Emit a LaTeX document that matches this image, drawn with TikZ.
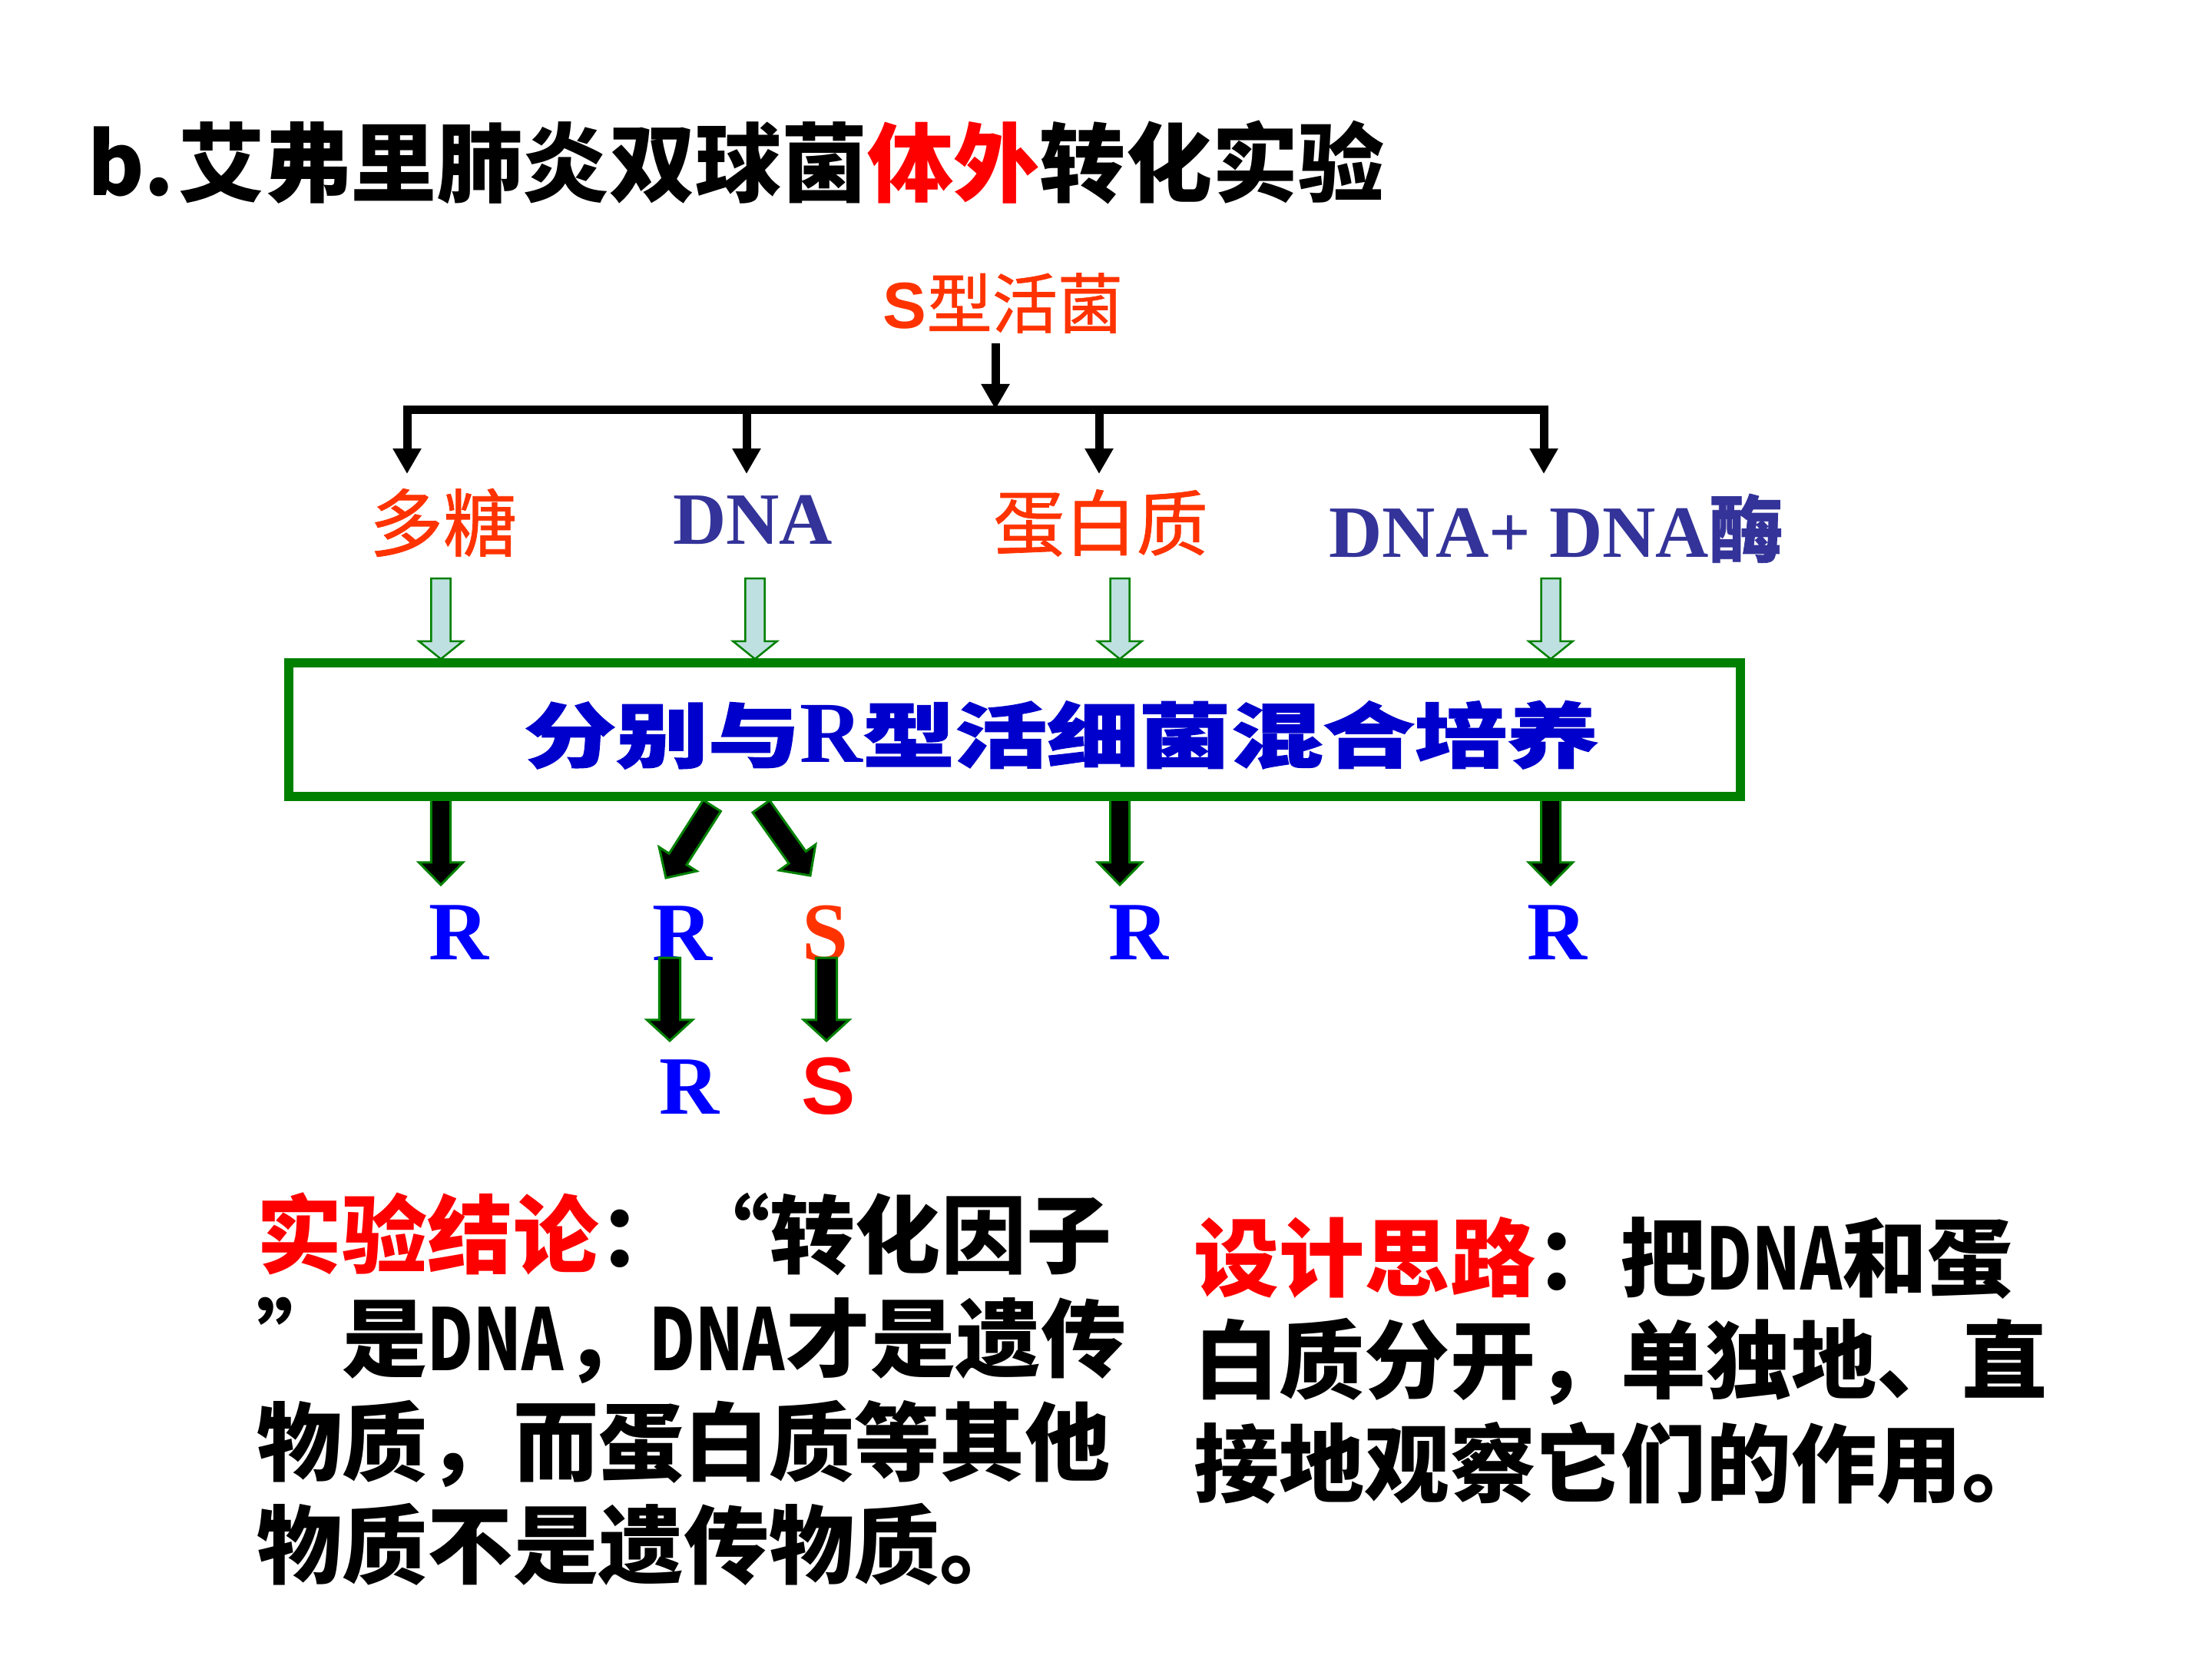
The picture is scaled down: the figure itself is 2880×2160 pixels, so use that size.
\documentclass[tikz,border=0pt]{standalone}
\usepackage{fontspec}
\usepackage{graphicx}
\setmainfont{Liberation Serif}
\newfontfamily\cjk{Noto Sans CJK SC}
\newfontfamily\cjkmid{Noto Sans CJK SC}[FakeBold=0.8]
\newfontfamily\cjkheavy{Noto Sans CJK SC}[BoldFeatures={FakeBold=1.5}]
\newfontfamily\sansb{Liberation Sans}
\usetikzlibrary{arrows.meta,calc}

\definecolor{lblred}{RGB}{255,51,0}
\definecolor{dnablue}{RGB}{51,51,153}
\definecolor{boxblue}{RGB}{0,0,204}
\definecolor{rblue}{RGB}{0,0,255}
\definecolor{pured}{RGB}{255,0,0}
\definecolor{boxgreen}{RGB}{0,128,0}
\definecolor{cyanfill}{RGB}{191,224,224}

\newcommand{\dna}{\scalebox{0.74}[1]{DNA}}
% #1 style, #2 from, #3 to, #4 shaft half width, #5 head half width, #6 head length
\newcommand{\blockarrow}[6]{%
  \coordinate (bah) at ($(#3)!#6!(#2)$);
  \path[#1] ($(#2)!#4!90:(#3)$) -- ($(bah)!#4!90:(#3)$) -- ($(bah)!#5!90:(#3)$) -- (#3)
    -- ($(bah)!#5!-90:(#3)$) -- ($(bah)!#4!-90:(#3)$) -- ($(#2)!#4!-90:(#3)$) -- cycle;}

\tikzset{
  treeline/.style={line width=0.11cm, line cap=rect},
  treearrow/.style={line width=0.11cm, -{Triangle[length=0.33cm,width=0.35cm]}},
  cyanarrow/.style={fill=cyanfill, draw=boxgreen, line width=0.025cm, line join=miter},
  blkarrow/.style={fill=black, draw=boxgreen, line width=0.03cm, line join=miter},
  lbl/.style={anchor=base, inner sep=0},
  body/.style={anchor=base west, inner sep=0, font=\cjk\bfseries\fontsize{31.6pt}{36pt}\selectfont},
  rlab/.style={lbl, font=\rmfamily\bfseries\fontsize{30.7pt}{34pt}\selectfont, text=rblue},
}

\begin{document}
\begin{tikzpicture}[x=0.01cm,y=-0.01cm]
\useasboundingbox[fill=white] (0,0) rectangle (2880,2160);

% title
\node[anchor=base west, inner sep=0, font=\cjk\bfseries\fontsize{31.9pt}{38pt}\selectfont] (title) at (114,254)
  {b.\hspace{0.05em}艾弗里肺炎双球菌{\color{pured}体外}转化实验};

% source
\node[lbl, text=lblred, font=\cjkmid\fontsize{24.2pt}{28pt}\selectfont] (S) at (1306,427)
  {{\sansb\bfseries S}型活菌};

\coordinate (s0) at (1296,447);
\coordinate (j0) at (1296,533);
\coordinate (b1) at (530,533);
\coordinate (b2) at (972,533);
\coordinate (b3) at (1431,533);
\coordinate (b4) at (2010,533);
\coordinate (e1) at (530,617);
\coordinate (e2) at (972,617);
\coordinate (e3) at (1431,617);
\coordinate (e4) at (2010,617);

\draw[treeline] (b1) -- (b4);
\draw[treearrow] (s0) -- (j0);
\draw[treearrow] (b1) -- (e1);
\draw[treearrow] (b2) -- (e2);
\draw[treearrow] (b3) -- (e3);
\draw[treearrow] (b4) -- (e4);

% component labels
\node[lbl, text=lblred, font=\cjkmid\fontsize{27.3pt}{30pt}\selectfont] (poly) at (577,717) {多糖};
\node[lbl, text=dnablue, font=\rmfamily\bfseries\fontsize{27.3pt}{30pt}\selectfont] (dnal) at (980,708) {DNA};
\node[lbl, text=lblred, font=\cjkmid\fontsize{26.5pt}{30pt}\selectfont] (prot) at (1433,716) {蛋白质};
\node[lbl, text=dnablue, font=\rmfamily\bfseries\fontsize{27.3pt}{30pt}\selectfont] (dnase) at (2026,725)
  {DNA+ DNA{\cjkmid 酶}};

% cyan arrows into the box
\coordinate (ca1) at (574,753);  \coordinate (cb1) at (574,858);
\coordinate (ca2) at (983,753);  \coordinate (cb2) at (983,858);
\coordinate (ca3) at (1458,753); \coordinate (cb3) at (1458,858);
\coordinate (ca4) at (2019,753); \coordinate (cb4) at (2019,858);
\blockarrow{cyanarrow}{ca1}{cb1}{0.125cm}{0.285cm}{0.23cm}
\blockarrow{cyanarrow}{ca2}{cb2}{0.125cm}{0.285cm}{0.23cm}
\blockarrow{cyanarrow}{ca3}{cb3}{0.125cm}{0.285cm}{0.23cm}
\blockarrow{cyanarrow}{ca4}{cb4}{0.125cm}{0.285cm}{0.23cm}

% black arrows out of the box
\coordinate (ka1) at (574,1040);  \coordinate (kb1) at (574,1152);
\coordinate (ka3) at (1458,1040); \coordinate (kb3) at (1458,1152);
\coordinate (ka4) at (2019,1040); \coordinate (kb4) at (2019,1152);
\coordinate (kl0) at (927,1049);  \coordinate (kl1) at (867,1143);
\coordinate (kr0) at (991,1050);  \coordinate (kr1) at (1055,1140);
\blockarrow{blkarrow}{ka1}{kb1}{0.125cm}{0.285cm}{0.29cm}
\blockarrow{blkarrow}{ka3}{kb3}{0.125cm}{0.285cm}{0.29cm}
\blockarrow{blkarrow}{ka4}{kb4}{0.125cm}{0.285cm}{0.29cm}
\blockarrow{blkarrow}{kl0}{kl1}{0.135cm}{0.29cm}{0.29cm}
\blockarrow{blkarrow}{kr0}{kr1}{0.135cm}{0.29cm}{0.29cm}

% mixing box
\node[draw=boxgreen, line width=0.12cm, minimum width=18.88cm, minimum height=1.74cm, inner sep=0] (box) at (1321,950) {};
\node[lbl, text=boxblue] (mix) at (1382,992)
  {\cjkheavy\bfseries\fontsize{26.2pt}{30pt}\selectfont\scalebox{1.3}[1]{分别与}{\rmfamily\bfseries\fontsize{32.2pt}{36pt}\selectfont R}\scalebox{1.3}[1]{型活细菌混合培养}};

% results
\node[rlab] (r1) at (597,1249) {R};
\node[rlab] (r2) at (888,1250) {R};
\node[rlab, text=lblred] (s1) at (1075,1250) {S};
\node[rlab] (r3) at (1482,1249) {R};
\node[rlab] (r4) at (2027,1249) {R};

\coordinate (ma1) at (872,1247);  \coordinate (mb1) at (872,1355);
\coordinate (ma2) at (1076,1247); \coordinate (mb2) at (1076,1355);
\blockarrow{blkarrow}{ma1}{mb1}{0.135cm}{0.295cm}{0.27cm}
\blockarrow{blkarrow}{ma2}{mb2}{0.135cm}{0.295cm}{0.27cm}

\node[rlab] (r5) at (897,1450) {R};
\node[lbl, text=pured, font=\sansb\bfseries\fontsize{30pt}{34pt}\selectfont] (s2) at (1079,1450) {S};

% conclusion
\node[body] (c1a) at (334,1649) {{\color{pured}实验结论}：};
\node[body, anchor=base east] (c1b) at (1448,1649) {\makebox[1em][r]{“}转化因子};
\node[body] (c2) at (334,1784) {\makebox[1em][l]{”}是\dna，\dna 才是遗传};
\node[body] (c3) at (334,1919) {物质，而蛋白质等其他};
\node[body] (c4) at (334,2053) {物质不是遗传物质。};

% design idea
\node[body] (d1) at (1554,1679) {{\color{pured}设计思路}：把\dna 和蛋};
\node[body] (d2) at (1554,1812) {白质分开，单独地、直};
\node[body] (d3) at (1554,1947) {接地观察它们的作用。};
\end{tikzpicture}
\end{document}
